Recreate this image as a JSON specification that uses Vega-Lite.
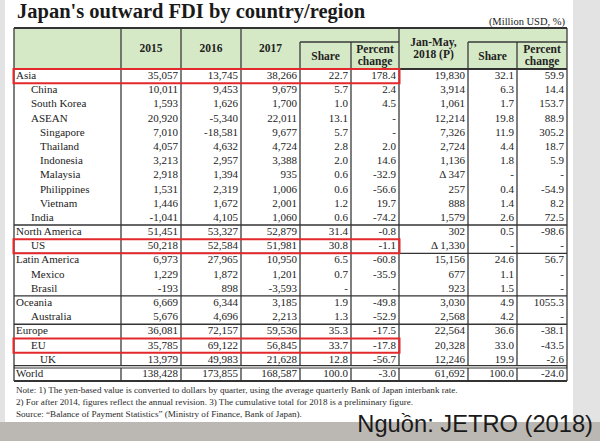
{
  "$schema": "https://vega.github.io/schema/vega-lite/v6.json",
  "width": 600,
  "height": 441,
  "padding": 0,
  "autosize": {"type": "none"},
  "background": "#e3e3e3",
  "config": {"view": {"stroke": null}, "text": {"font": "Liberation Serif"}},
  "datasets": {
    "fdi": [
      {"region":"Asia","level":0,"y2015":"35,057","y2016":"13,745","y2017":"38,266","sh17":"22.7","pc17":"178.4","jm18":"19,830","sh18":"32.1","pc18":"59.9"},
      {"region":"China","level":1,"y2015":"10,011","y2016":"9,453","y2017":"9,679","sh17":"5.7","pc17":"2.4","jm18":"3,914","sh18":"6.3","pc18":"14.4"},
      {"region":"South Korea","level":1,"y2015":"1,593","y2016":"1,626","y2017":"1,700","sh17":"1.0","pc17":"4.5","jm18":"1,061","sh18":"1.7","pc18":"153.7"},
      {"region":"ASEAN","level":1,"y2015":"20,920","y2016":"-5,340","y2017":"22,011","sh17":"13.1","pc17":"-","jm18":"12,214","sh18":"19.8","pc18":"88.9"},
      {"region":"Singapore","level":2,"y2015":"7,010","y2016":"-18,581","y2017":"9,677","sh17":"5.7","pc17":"-","jm18":"7,326","sh18":"11.9","pc18":"305.2"},
      {"region":"Thailand","level":2,"y2015":"4,057","y2016":"4,632","y2017":"4,724","sh17":"2.8","pc17":"2.0","jm18":"2,724","sh18":"4.4","pc18":"18.7"},
      {"region":"Indonesia","level":2,"y2015":"3,213","y2016":"2,957","y2017":"3,388","sh17":"2.0","pc17":"14.6","jm18":"1,136","sh18":"1.8","pc18":"5.9"},
      {"region":"Malaysia","level":2,"y2015":"2,918","y2016":"1,394","y2017":"935","sh17":"0.6","pc17":"-32.9","jm18":"Δ 347","sh18":"-","pc18":"-"},
      {"region":"Philippines","level":2,"y2015":"1,531","y2016":"2,319","y2017":"1,006","sh17":"0.6","pc17":"-56.6","jm18":"257","sh18":"0.4","pc18":"-54.9"},
      {"region":"Vietnam","level":2,"y2015":"1,446","y2016":"1,672","y2017":"2,001","sh17":"1.2","pc17":"19.7","jm18":"888","sh18":"1.4","pc18":"8.2"},
      {"region":"India","level":1,"y2015":"-1,041","y2016":"4,105","y2017":"1,060","sh17":"0.6","pc17":"-74.2","jm18":"1,579","sh18":"2.6","pc18":"72.5"},
      {"region":"North America","level":0,"y2015":"51,451","y2016":"53,327","y2017":"52,879","sh17":"31.4","pc17":"-0.8","jm18":"302","sh18":"0.5","pc18":"-98.6"},
      {"region":"US","level":1,"y2015":"50,218","y2016":"52,584","y2017":"51,981","sh17":"30.8","pc17":"-1.1","jm18":"Δ 1,330","sh18":"-","pc18":"-"},
      {"region":"Latin America","level":0,"y2015":"6,973","y2016":"27,965","y2017":"10,950","sh17":"6.5","pc17":"-60.8","jm18":"15,156","sh18":"24.6","pc18":"56.7"},
      {"region":"Mexico","level":1,"y2015":"1,229","y2016":"1,872","y2017":"1,201","sh17":"0.7","pc17":"-35.9","jm18":"677","sh18":"1.1","pc18":"-"},
      {"region":"Brasil","level":1,"y2015":"-193","y2016":"898","y2017":"-3,593","sh17":"-","pc17":"-","jm18":"923","sh18":"1.5","pc18":"-"},
      {"region":"Oceania","level":0,"y2015":"6,669","y2016":"6,344","y2017":"3,185","sh17":"1.9","pc17":"-49.8","jm18":"3,030","sh18":"4.9","pc18":"1055.3"},
      {"region":"Australia","level":1,"y2015":"5,676","y2016":"4,696","y2017":"2,213","sh17":"1.3","pc17":"-52.9","jm18":"2,568","sh18":"4.2","pc18":"-"},
      {"region":"Europe","level":0,"y2015":"36,081","y2016":"72,157","y2017":"59,536","sh17":"35.3","pc17":"-17.5","jm18":"22,564","sh18":"36.6","pc18":"-38.1"},
      {"region":"EU","level":1,"y2015":"35,785","y2016":"69,122","y2017":"56,845","sh17":"33.7","pc17":"-17.8","jm18":"20,328","sh18":"33.0","pc18":"-43.5"},
      {"region":"UK","level":2,"y2015":"13,979","y2016":"49,983","y2017":"21,628","sh17":"12.8","pc17":"-56.7","jm18":"12,246","sh18":"19.9","pc18":"-2.6"},
      {"region":"World","level":0,"y2015":"138,428","y2016":"173,855","y2017":"168,587","sh17":"100.0","pc17":"-3.0","jm18":"61,692","sh18":"100.0","pc18":"-24.0"}
    ],
    "cols": [
      {"key":"y2015","c":1,"head":"2015","tier":"top"},
      {"key":"y2016","c":2,"head":"2016","tier":"top"},
      {"key":"y2017","c":3,"head":"2017","tier":"top"},
      {"key":"sh17","c":4,"head":"Share","tier":"sub"},
      {"key":"pc17","c":5,"head":"Percent\nchange","tier":"sub"},
      {"key":"jm18","c":6,"head":"Jan-May,\n2018 (P)","tier":"top"},
      {"key":"sh18","c":7,"head":"Share","tier":"sub"},
      {"key":"pc18","c":8,"head":"Percent\nchange","tier":"sub"}
    ],
    "notes": [
      {"n":1,"t":"Note: 1) The yen-based value is converted to dollars by quarter, using the average quarterly Bank of Japan interbank rate."},
      {"n":2,"t":"2) For after 2014, figures reflect the annual revision.  3) The cumulative total for 2018 is a preliminary figure."},
      {"n":3,"t":"Source:  “Balance of Payment Statistics” (Ministry of Finance, Bank of Japan)."}
    ]
  },
  "layer": [
    {
      "data": {"values": [{}]},
      "mark": {"type": "rect", "fill": "#ffffff"},
      "encoding": {
        "x": {"datum": -0.5, "type": "quantitative", "axis": null, "scale": {"type":"linear","domain":[-1,-0.5,0,1,2,3,4,5,6,7,8,9,9.5,10],"range":[0,5,14,121,181,241,300,351,399,468,517,567,573,600],"nice":false,"zero":false}},
        "x2": {"datum": 9.5},
        "y": {"datum": -3, "type": "quantitative", "axis": null, "scale": {"type":"linear","domain":[-3,-2,-1,0,1,2,3,4,5,6],"range":[0,18,25,28,42,69,381,422,432,441],"nice":false,"zero":false}},
        "y2": {"datum": 4}
      }
    },
    {
      "data": {"values": [{}]},
      "mark": {"type": "rect", "fill": "#bbb7b3"},
      "encoding": {
        "x": {"datum": -1, "type": "quantitative", "axis": null, "scale": {"type":"linear","domain":[-1,-0.5,0,1,2,3,4,5,6,7,8,9,9.5,10],"range":[0,5,14,121,181,241,300,351,399,468,517,567,573,600],"nice":false,"zero":false}},
        "x2": {"datum": 10},
        "y": {"datum": 4, "type": "quantitative", "axis": null, "scale": {"type":"linear","domain":[-3,-2,-1,0,1,2,3,4,5,6],"range":[0,18,25,28,42,69,381,422,432,441],"nice":false,"zero":false}},
        "y2": {"datum": 6}
      }
    },
    {
      "data": {"values": [{}]},
      "mark": {"type": "rect", "fill": "#d6e9c6"},
      "encoding": {
        "x": {"datum": 0, "type": "quantitative", "axis": null, "scale": {"type":"linear","domain":[-1,-0.5,0,1,2,3,4,5,6,7,8,9,9.5,10],"range":[0,5,14,121,181,241,300,351,399,468,517,567,573,600],"nice":false,"zero":false}},
        "x2": {"datum": 9},
        "y": {"datum": 0, "type": "quantitative", "axis": null, "scale": {"type":"linear","domain":[-3,-2,-1,0,1,2,3,4,5,6],"range":[0,18,25,28,42,69,381,422,432,441],"nice":false,"zero":false}},
        "y2": {"datum": 2}
      }
    },
    {
      "data": {"name": "fdi"},
      "mark": {"type": "text", "align": "left", "baseline": "middle", "fontSize": 11, "color": "#1c1c1c"},
      "encoding": {
        "x": {"field": "level", "type": "quantitative", "axis": null, "scale": {"type":"linear","domain":[0,1,2],"range":[16,31,40],"nice":false,"zero":false}},
        "y": {"field": "region", "type": "nominal", "axis": null, "sort": null, "scale": {"type":"band","domain":["Asia","China","South Korea","ASEAN","Singapore","Thailand","Indonesia","Malaysia","Philippines","Vietnam","India","North America","US","Latin America","Mexico","Brasil","Oceania","Australia","Europe","EU","UK","World"],"range":[69,381],"paddingInner":0,"paddingOuter":0}},
        "text": {"field": "region", "type": "nominal"}
      }
    },
    {
      "data": {"name": "fdi"},
      "transform": [
        {"fold": ["y2015","y2016","y2017","sh17","pc17","jm18","sh18","pc18"], "as": ["key","val"]},
        {"lookup": "key", "from": {"data": {"name": "cols"}, "key": "key", "fields": ["c"]}}
      ],
      "mark": {"type": "text", "align": "right", "baseline": "middle", "fontSize": 11, "dx": -3, "color": "#1c1c1c"},
      "encoding": {
        "x": {"field": "c", "type": "quantitative", "axis": null, "scale": {"type":"linear","domain":[1,2,3,4,5,6,7,8],"range":[181,241,300,351,399,468,517,567],"nice":false,"zero":false}},
        "y": {"field": "region", "type": "nominal", "axis": null, "sort": null, "scale": {"type":"band","domain":["Asia","China","South Korea","ASEAN","Singapore","Thailand","Indonesia","Malaysia","Philippines","Vietnam","India","North America","US","Latin America","Mexico","Brasil","Oceania","Australia","Europe","EU","UK","World"],"range":[69,381],"paddingInner":0,"paddingOuter":0}},
        "text": {"field": "val", "type": "nominal"}
      }
    },
    {
      "data": {"name": "cols"},
      "transform": [{"filter": "indexof(datum.head, '\\n') < 0"}],
      "mark": {"type": "text", "align": "center", "baseline": "middle", "fontSize": 11.5, "fontWeight": "bold", "color": "#222222"},
      "encoding": {
        "x": {"field": "c", "type": "quantitative", "axis": null, "scale": {"type":"linear","domain":[1,2,3,4,5,6,7,8],"range":[151,211,270.5,325.5,375,433.5,492.5,542],"nice":false,"zero":false}},
        "y": {"field": "tier", "type": "nominal", "axis": null, "scale": {"type":"point","domain":["top","sub"],"range":[48.5,56.5],"padding":0}},
        "text": {"field": "head", "type": "nominal"}
      }
    },
    {
      "data": {"name": "cols"},
      "transform": [{"filter": "indexof(datum.head, '\\n') >= 0"}],
      "mark": {"type": "text", "align": "center", "baseline": "middle", "fontSize": 11.5, "fontWeight": "bold", "lineBreak": "\n", "lineHeight": 12.5, "dy": -6.5, "color": "#222222"},
      "encoding": {
        "x": {"field": "c", "type": "quantitative", "axis": null, "scale": {"type":"linear","domain":[1,2,3,4,5,6,7,8],"range":[151,211,270.5,325.5,375,433.5,492.5,542],"nice":false,"zero":false}},
        "y": {"field": "tier", "type": "nominal", "axis": null, "scale": {"type":"point","domain":["top","sub"],"range":[49,56],"padding":0}},
        "text": {"field": "head", "type": "nominal"}
      }
    },
    {
      "data": {"values": [{"e":0},{"e":1},{"e":2},{"e":3},{"e":6},{"e":9}]},
      "mark": {"type": "rule", "color": "#3a3a3a", "strokeWidth": 1.3},
      "encoding": {
        "x": {"field": "e", "type": "quantitative", "axis": null, "scale": {"type":"linear","domain":[-1,-0.5,0,1,2,3,4,5,6,7,8,9,9.5,10],"range":[0,5,14,121,181,241,300,351,399,468,517,567,573,600],"nice":false,"zero":false}},
        "y": {"datum": 0, "type": "quantitative", "axis": null, "scale": {"type":"linear","domain":[-3,-2,-1,0,1,2,3,4,5,6],"range":[0,18,25,28,42,69,381,422,432,441],"nice":false,"zero":false}},
        "y2": {"datum": 3}
      }
    },
    {
      "data": {"values": [{"e":4},{"e":5},{"e":7},{"e":8}]},
      "mark": {"type": "rule", "color": "#3a3a3a", "strokeWidth": 1.3},
      "encoding": {
        "x": {"field": "e", "type": "quantitative", "axis": null, "scale": {"type":"linear","domain":[-1,-0.5,0,1,2,3,4,5,6,7,8,9,9.5,10],"range":[0,5,14,121,181,241,300,351,399,468,517,567,573,600],"nice":false,"zero":false}},
        "y": {"datum": 1, "type": "quantitative", "axis": null, "scale": {"type":"linear","domain":[-3,-2,-1,0,1,2,3,4,5,6],"range":[0,18,25,28,42,69,381,422,432,441],"nice":false,"zero":false}},
        "y2": {"datum": 3}
      }
    },
    {
      "data": {"values": [{"a":4,"b":6},{"a":7,"b":9}]},
      "mark": {"type": "rule", "color": "#3a3a3a", "strokeWidth": 1.3},
      "encoding": {
        "x": {"field": "a", "type": "quantitative", "axis": null, "scale": {"type":"linear","domain":[-1,-0.5,0,1,2,3,4,5,6,7,8,9,9.5,10],"range":[0,5,14,121,181,241,300,351,399,468,517,567,573,600],"nice":false,"zero":false}},
        "x2": {"field": "b"},
        "y": {"datum": 1, "type": "quantitative", "axis": null, "scale": {"type":"linear","domain":[-3,-2,-1,0,1,2,3,4,5,6],"range":[0,18,25,28,42,69,381,422,432,441],"nice":false,"zero":false}}
      }
    },
    {
      "data": {"values": [{"t":0},{"t":2},{"t":3}]},
      "mark": {"type": "rule", "color": "#333333", "strokeWidth": 1.8},
      "encoding": {
        "x": {"datum": 0, "type": "quantitative", "axis": null, "scale": {"type":"linear","domain":[-1,-0.5,0,1,2,3,4,5,6,7,8,9,9.5,10],"range":[0,5,14,121,181,241,300,351,399,468,517,567,573,600],"nice":false,"zero":false}},
        "x2": {"datum": 9},
        "y": {"field": "t", "type": "quantitative", "axis": null, "scale": {"type":"linear","domain":[-3,-2,-1,0,1,2,3,4,5,6],"range":[0,18,25,28,42,69,381,422,432,441],"nice":false,"zero":false}}
      }
    },
    {
      "data": {"name": "fdi"},
      "transform": [{"filter": {"field": "level", "equal": 0}}],
      "mark": {"type": "rule", "color": "#333333", "strokeWidth": 1.3},
      "encoding": {
        "x": {"datum": 0, "type": "quantitative", "axis": null, "scale": {"type":"linear","domain":[-1,-0.5,0,1,2,3,4,5,6,7,8,9,9.5,10],"range":[0,5,14,121,181,241,300,351,399,468,517,567,573,600],"nice":false,"zero":false}},
        "x2": {"datum": 9},
        "y": {"field": "region", "type": "nominal", "axis": null, "bandPosition": 0, "scale": {"type":"band","domain":["Asia","China","South Korea","ASEAN","Singapore","Thailand","Indonesia","Malaysia","Philippines","Vietnam","India","North America","US","Latin America","Mexico","Brasil","Oceania","Australia","Europe","EU","UK","World"],"range":[69,381],"paddingInner":0,"paddingOuter":0}}
      }
    },
    {
      "data": {"name": "fdi"},
      "transform": [{"filter": {"field": "region", "equal": "World"}}],
      "mark": {"type": "rule", "color": "#333333", "strokeWidth": 3.6},
      "encoding": {
        "x": {"datum": 0, "type": "quantitative", "axis": null, "scale": {"type":"linear","domain":[-1,-0.5,0,1,2,3,4,5,6,7,8,9,9.5,10],"range":[0,5,14,121,181,241,300,351,399,468,517,567,573,600],"nice":false,"zero":false}},
        "x2": {"datum": 9},
        "y": {"field": "region", "type": "nominal", "axis": null, "bandPosition": 0, "scale": {"type":"band","domain":["Asia","China","South Korea","ASEAN","Singapore","Thailand","Indonesia","Malaysia","Philippines","Vietnam","India","North America","US","Latin America","Mexico","Brasil","Oceania","Australia","Europe","EU","UK","World"],"range":[69,381],"paddingInner":0,"paddingOuter":0}}
      }
    },
    {
      "data": {"name": "fdi"},
      "transform": [{"filter": {"field": "region", "equal": "World"}}],
      "mark": {"type": "rule", "color": "#ffffff", "strokeWidth": 1.2},
      "encoding": {
        "x": {"datum": 0, "type": "quantitative", "axis": null, "scale": {"type":"linear","domain":[-1,-0.5,0,1,2,3,4,5,6,7,8,9,9.5,10],"range":[14.8,14.8,14.8,121,181,241,300,351,399,468,517,566.2,566.2,566.2],"nice":false,"zero":false}},
        "x2": {"datum": 9},
        "y": {"field": "region", "type": "nominal", "axis": null, "bandPosition": 0, "scale": {"type":"band","domain":["Asia","China","South Korea","ASEAN","Singapore","Thailand","Indonesia","Malaysia","Philippines","Vietnam","India","North America","US","Latin America","Mexico","Brasil","Oceania","Australia","Europe","EU","UK","World"],"range":[69,381],"paddingInner":0,"paddingOuter":0}}
      }
    },
    {
      "data": {"name": "fdi"},
      "transform": [{"filter": {"field": "region", "oneOf": ["Asia","US","EU"]}}],
      "mark": {"type": "rect", "filled": false, "stroke": "#e3292b", "strokeWidth": 2},
      "encoding": {
        "x": {"datum": 0, "type": "quantitative", "axis": null, "scale": {"type":"linear","domain":[-1,-0.5,0,1,2,3,4,5,6,7,8,9,9.5,10],"range":[0,5,13.5,121,181,241,300,351,399.5,468,517,567,573,600],"nice":false,"zero":false}},
        "x2": {"datum": 6},
        "y": {"field": "region", "type": "nominal", "axis": null, "scale": {"type":"band","domain":["Asia","China","South Korea","ASEAN","Singapore","Thailand","Indonesia","Malaysia","Philippines","Vietnam","India","North America","US","Latin America","Mexico","Brasil","Oceania","Australia","Europe","EU","UK","World"],"range":[69,381],"paddingInner":0,"paddingOuter":0}}
      }
    },
    {
      "data": {"values": [{"t": "Japan's outward FDI by country/region"}]},
      "mark": {"type": "text", "align": "left", "baseline": "alphabetic", "fontSize": 20.5, "fontWeight": "bold", "dx": 3, "color": "#1a1a1a"},
      "encoding": {
        "x": {"datum": 0, "type": "quantitative", "axis": null, "scale": {"type":"linear","domain":[-1,-0.5,0,1,2,3,4,5,6,7,8,9,9.5,10],"range":[0,5,14,121,181,241,300,351,399,468,517,567,573,600],"nice":false,"zero":false}},
        "y": {"datum": -2, "type": "quantitative", "axis": null, "scale": {"type":"linear","domain":[-3,-2,-1,0,1,2,3,4,5,6],"range":[0,18,25,28,42,69,381,422,432,441],"nice":false,"zero":false}},
        "text": {"field": "t", "type": "nominal"}
      }
    },
    {
      "data": {"values": [{"t": "(Million USD, %)"}]},
      "mark": {"type": "text", "align": "right", "baseline": "alphabetic", "fontSize": 10.5, "dx": -2, "color": "#222222"},
      "encoding": {
        "x": {"datum": 9, "type": "quantitative", "axis": null, "scale": {"type":"linear","domain":[-1,-0.5,0,1,2,3,4,5,6,7,8,9,9.5,10],"range":[0,5,14,121,181,241,300,351,399,468,517,567,573,600],"nice":false,"zero":false}},
        "y": {"datum": -1, "type": "quantitative", "axis": null, "scale": {"type":"linear","domain":[-3,-2,-1,0,1,2,3,4,5,6],"range":[0,18,25,28,42,69,381,422,432,441],"nice":false,"zero":false}},
        "text": {"field": "t", "type": "nominal"}
      }
    },
    {
      "data": {"name": "notes"},
      "mark": {"type": "text", "align": "left", "baseline": "middle", "fontSize": 9.1, "dx": 2, "color": "#2a2a2a"},
      "encoding": {
        "x": {"datum": 0, "type": "quantitative", "axis": null, "scale": {"type":"linear","domain":[-1,-0.5,0,1,2,3,4,5,6,7,8,9,9.5,10],"range":[0,5,14,121,181,241,300,351,399,468,517,567,573,600],"nice":false,"zero":false}},
        "y": {"field": "n", "type": "quantitative", "axis": null, "scale": {"type":"linear","domain":[1,3],"range":[390,414],"nice":false,"zero":false}},
        "text": {"field": "t", "type": "nominal"}
      }
    },
    {
      "data": {"values": [{"t": "Nguồn: JETRO (2018)"}]},
      "mark": {"type": "text", "align": "right", "baseline": "alphabetic", "font": "Liberation Sans", "fontSize": 23.7, "dx": -7, "color": "#1a1a1a"},
      "encoding": {
        "x": {"datum": 10, "type": "quantitative", "axis": null, "scale": {"type":"linear","domain":[-1,-0.5,0,1,2,3,4,5,6,7,8,9,9.5,10],"range":[0,5,14,121,181,241,300,351,399,468,517,567,573,600],"nice":false,"zero":false}},
        "y": {"datum": 5, "type": "quantitative", "axis": null, "scale": {"type":"linear","domain":[-3,-2,-1,0,1,2,3,4,5,6],"range":[0,18,25,28,42,69,381,422,432,441],"nice":false,"zero":false}},
        "text": {"field": "t", "type": "nominal"}
      }
    }
  ],
  "resolve": {"scale": {"x": "independent", "y": "independent"}}
}
